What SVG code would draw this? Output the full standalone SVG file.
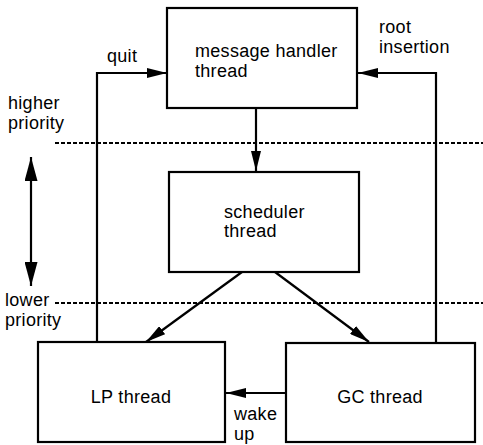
<svg xmlns="http://www.w3.org/2000/svg" width="483" height="445" viewBox="0 0 483 445">
<style>
.box{fill:#fff;stroke:#000;stroke-width:2.2}
.ln{fill:none;stroke:#000;stroke-width:2.2}
.dash{fill:none;stroke:#000;stroke-width:2;stroke-dasharray:4 2}
text{font-family:"Liberation Sans",Arial,sans-serif;font-size:18px;fill:#000;letter-spacing:0.3px}
</style>
<defs>
<marker id="ah" viewBox="0 0 20 10" refX="20" refY="5" markerWidth="20" markerHeight="10" markerUnits="userSpaceOnUse" orient="auto-start-reverse">
<path d="M0,0 L20,5 L0,10 Z" fill="#000"/>
</marker>
<marker id="ah2" viewBox="0 0 24 13" refX="24" refY="6.5" markerWidth="24" markerHeight="13" markerUnits="userSpaceOnUse" orient="auto-start-reverse">
<path d="M0,0 L24,6.5 L0,13 Z" fill="#000"/>
</marker>
</defs>
<g id="priority-lines">
<line class="dash" x1="55" y1="143" x2="483" y2="143"/>
<line class="dash" x1="55" y1="303" x2="483" y2="303"/>
<line class="ln" x1="31" y1="157" x2="31" y2="286" marker-start="url(#ah2)" marker-end="url(#ah2)"/>
<text x="8" y="109">higher</text>
<text x="8" y="129">priority</text>
<text x="5" y="306">lower</text>
<text x="5" y="326">priority</text>
</g>
<g id="connectors">
<polyline class="ln" points="97,341 97,73 167,73" marker-end="url(#ah)"/>
<polyline class="ln" points="436,342 436,73 358,73" marker-end="url(#ah)"/>
<line class="ln" x1="256" y1="108" x2="256" y2="171" marker-end="url(#ah)"/>
<line class="ln" x1="242" y1="272" x2="146" y2="342" marker-end="url(#ah)"/>
<line class="ln" x1="275" y1="272" x2="369" y2="342" marker-end="url(#ah)"/>
<line class="ln" x1="285" y1="393" x2="226" y2="393" marker-end="url(#ah)"/>
<text x="107" y="62">quit</text>
<text x="379" y="33">root</text>
<text x="379" y="53">insertion</text>
<text x="234" y="420">wake</text>
<text x="234" y="440">up</text>
</g>
<g id="message-handler">
<rect class="box" x="167" y="8" width="190" height="100"/>
<text x="195" y="57">message handler</text>
<text x="195" y="77">thread</text>
</g>
<g id="scheduler">
<rect class="box" x="169" y="172" width="190" height="100"/>
<text x="224" y="218">scheduler</text>
<text x="224" y="237">thread</text>
</g>
<g id="lp">
<rect class="box" x="38" y="342" width="187" height="100"/>
<text x="131" y="403" text-anchor="middle">LP thread</text>
</g>
<g id="gc">
<rect class="box" x="286" y="343" width="189" height="99"/>
<text x="380" y="403" text-anchor="middle">GC thread</text>
</g>
</svg>
